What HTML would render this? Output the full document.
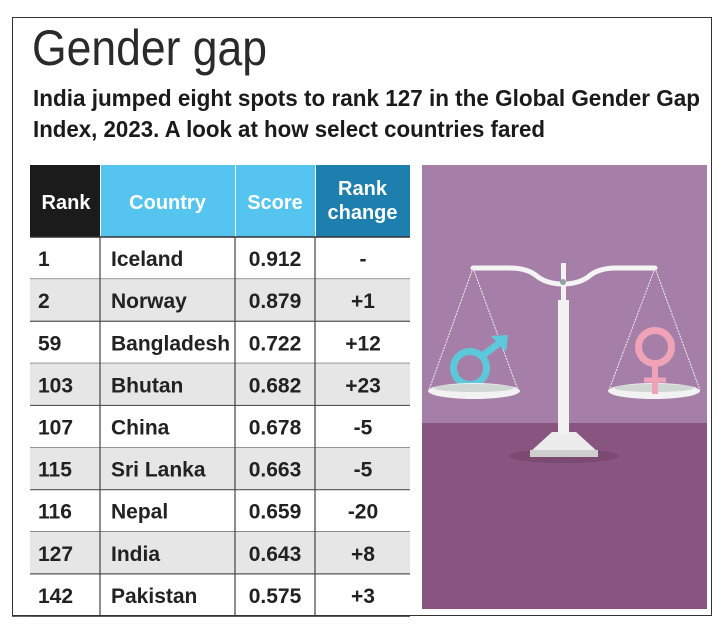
<!DOCTYPE html>
<html><head><meta charset="utf-8">
<style>
html,body{margin:0;padding:0;background:#fff;}
body{width:725px;height:629px;overflow:hidden;}
svg{display:block;}
text{font-family:"Liberation Sans",sans-serif;}
</style></head>
<body>
<svg id="chart" width="725" height="629" viewBox="0 0 725 629">
  <rect x="12.5" y="17.5" width="699" height="598" fill="#fff" stroke="#333" stroke-width="1"/>
  <text x="32" y="65" font-size="50" fill="#2a2a2a" textLength="235" lengthAdjust="spacingAndGlyphs">Gender gap</text>
  <text x="33" y="106" font-size="23" font-weight="bold" fill="#1a1a1a" textLength="667" lengthAdjust="spacingAndGlyphs">India jumped eight spots to rank 127 in the Global Gender Gap</text>
  <text x="33" y="137" font-size="23" font-weight="bold" fill="#1a1a1a" textLength="512" lengthAdjust="spacingAndGlyphs">Index, 2023. A look at how select countries fared</text>

  <g id="table"></g>

  <g>
    <rect x="422" y="165" width="285" height="258" fill="#a67fa8"/>
    <rect x="422" y="423" width="285" height="186" fill="#87557f"/>
    <ellipse cx="564" cy="456" rx="55" ry="7" fill="#7a4a73"/>
    <path d="M530 452 L552 432 L576 432 L598 452 Z" fill="#ececec"/>
    <rect x="530" y="450" width="68" height="7" fill="#cfcfcf"/>
    <rect x="558" y="300" width="11" height="134" fill="#f2f2f2"/>
    <rect x="561" y="263" width="5" height="40" fill="#f2f2f2"/>
    <path d="M473 268 L510 268 Q528 268 538 277 Q548 284 563 284 Q578 284 588 277 Q598 268 616 268 L655 268" fill="none" stroke="#f4f4f4" stroke-width="5" stroke-linecap="round"/>
    <circle cx="563" cy="282" r="3" fill="#8fa3a0"/>
    <g stroke="#eee" stroke-width="1" stroke-dasharray="2 1">
      <line x1="473" y1="268" x2="429" y2="390"/><line x1="473" y1="268" x2="518" y2="390"/>
      <line x1="655" y1="268" x2="609" y2="390"/><line x1="655" y1="268" x2="700" y2="390"/>
    </g>
    <circle cx="470" cy="368" r="16.5" fill="none" stroke="#5ec8db" stroke-width="7"/>
    <line x1="482" y1="356" x2="502" y2="341" stroke="#5ec8db" stroke-width="7"/>
    <path d="M491 336 L508 335 L506 352 Z" fill="#5ec8db"/>
    <circle cx="655" cy="347" r="16.5" fill="none" stroke="#f0a3b7" stroke-width="7"/>
    <line x1="655" y1="364" x2="655" y2="394" stroke="#f0a3b7" stroke-width="6"/>
    <line x1="644" y1="380" x2="666" y2="380" stroke="#f0a3b7" stroke-width="5"/>
    <ellipse cx="474" cy="391" rx="46" ry="8" fill="#f2f2f2"/>
    <ellipse cx="474" cy="388" rx="40" ry="4" fill="#cfd6d4"/>
    <ellipse cx="654" cy="391" rx="46" ry="8" fill="#f2f2f2"/>
    <ellipse cx="654" cy="388" rx="40" ry="4" fill="#cfd6d4"/>
    <line x1="655" y1="380" x2="655" y2="394" stroke="#f0a3b7" stroke-width="6"/>
  </g>
</svg>
<script>
const ranks = ["1","2","59","103","107","115","116","127","142"];
const countries = ["Iceland","Norway","Bangladesh","Bhutan","China","Sri Lanka","Nepal","India","Pakistan"];
const scores = ["0.912","0.879","0.722","0.682","0.678","0.663","0.659","0.643","0.575"];
const rankChanges = ["-","+1","+12","+23","-5","-5","-20","+8","+3"];
const headers = ["Rank","Country","Score","Rank change"];

const NS = "http://www.w3.org/2000/svg";
const g = document.getElementById('table');
const colX = [30, 100, 235, 315, 410];
const headTop = 165, headBot = 237, tableBot = 616;
const rowH = (tableBot - headBot) / ranks.length;
function mk(tag, attrs, parent){ const e=document.createElementNS(NS,tag); for(const k in attrs) e.setAttribute(k,attrs[k]); parent.appendChild(e); return e; }
const headFill = ["#1b1b1b","#55c4ee","#55c4ee","#1d7fae"];
headers.forEach((h,i)=>{
  const r = mk('rect',{x:colX[i]+(i?1:0),y:headTop,width:colX[i+1]-colX[i]-(i?1:0),height:headBot-headTop,fill:headFill[i]},g);
  
  
  const lines = h==="Rank change" ? ["Rank","change"] : [h];
  const cx = i===0 ? colX[0]+36 : (colX[i]+colX[i+1])/2;
  lines.forEach((ln,j)=>{
    const t = mk('text',{x:cx,y: lines.length===2 ? 195+j*24 : 209,'font-size':20,'font-weight':'bold',fill:'#fff','text-anchor':'middle'},g);
    t.textContent = ln;
    
    
  });
});
mk('line',{x1:30,y1:headBot,x2:410,y2:headBot,stroke:'#333','stroke-width':1.5},g);
ranks.forEach((rk,i)=>{
  const y = headBot + i*rowH;
  const row = mk('g',{},g);
  
  
  if(i%2===1) mk('rect',{x:30,y:y,width:380,height:rowH,fill:'#e6e6e6'},row);
  mk('line',{x1:30,y1:y+rowH,x2:410,y2:y+rowH,stroke:'#555','stroke-width':1.2},row);
  const ty = y + rowH/2 + 8;
  const vals = [rk, countries[i], scores[i], rankChanges[i]];
  const xs = [38, 111, 275, 363];
  const anchors = ['start','start','middle','middle'];
  vals.forEach((v,j)=>{
    const t = mk('text',{x:xs[j],y:ty,'font-size':21,'font-weight':'bold',fill:'#222','text-anchor':anchors[j]},row);
    t.textContent = v;
    
    
  });
});
[100,235,315].forEach(x=>mk('line',{x1:x,y1:headBot,x2:x,y2:tableBot,stroke:'#444','stroke-width':1.2},g));
mk('line',{x1:12,y1:tableBot,x2:410,y2:tableBot,stroke:'#333','stroke-width':1.5},g);
</script>
</body></html>
